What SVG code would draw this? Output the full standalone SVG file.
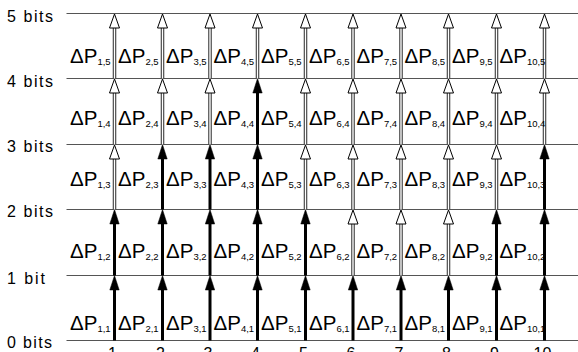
<svg xmlns="http://www.w3.org/2000/svg" xmlns:xlink="http://www.w3.org/1999/xlink" width="578" height="352" viewBox="0 0 578 352">
<style>
.grid{stroke:#555;stroke-width:1;fill:none}
.ax{font-family:"Liberation Sans",Arial,sans-serif;font-size:16px;fill:#000}
.lb{font-family:"Liberation Sans",Arial,sans-serif;font-size:20.5px;fill:#000}
.sub{font-size:9.5px}
.bs{stroke:#000;stroke-width:3;fill:none}
.ho{stroke:#333;stroke-width:3.5;fill:none}
.hi{stroke:#fff;stroke-width:1.4;fill:none}
.bh{fill:#000;stroke:#000;stroke-width:0.5}
.hh{fill:#fff;stroke:#000;stroke-width:1}
</style>
<defs>
<path id="hb" d="M0,0 L-4.7,14.5 L4.7,14.5 Z" class="bh"/>
<path id="hh" d="M0,0.5 L-5,14.5 L5,14.5 Z" class="hh"/>
</defs>
<rect width="578" height="352" fill="#fff"/>
<g id="gridlines">
<line class="grid" x1="66.5" y1="13.5" x2="578" y2="13.5"/>
<line class="grid" x1="66.5" y1="78.5" x2="578" y2="78.5"/>
<line class="grid" x1="66.5" y1="144.5" x2="578" y2="144.5"/>
<line class="grid" x1="66.5" y1="209.5" x2="578" y2="209.5"/>
<line class="grid" x1="66.5" y1="275.5" x2="578" y2="275.5"/>
<line class="grid" x1="66.5" y1="340.5" x2="578" y2="340.5"/>
</g>
<g id="axis-labels">
<text class="ax" x="7" y="22" textLength="46" lengthAdjust="spacing">5 bits</text>
<text class="ax" x="7" y="86.5" textLength="46" lengthAdjust="spacing">4 bits</text>
<text class="ax" x="7" y="152" textLength="46" lengthAdjust="spacing">3 bits</text>
<text class="ax" x="7" y="217" textLength="46" lengthAdjust="spacing">2 bits</text>
<text class="ax" x="7" y="283.5" textLength="38" lengthAdjust="spacing">1 bit</text>
<text class="ax" x="7" y="348" textLength="45" lengthAdjust="spacing">0 bits</text>
<g text-anchor="middle">
<text class="ax" x="112.5" y="359">1</text>
<text class="ax" x="160.5" y="359">2</text>
<text class="ax" x="208" y="359">3</text>
<text class="ax" x="255.5" y="359">4</text>
<text class="ax" x="303.5" y="359">5</text>
<text class="ax" x="351" y="359">6</text>
<text class="ax" x="399" y="359">7</text>
<text class="ax" x="446.5" y="359">8</text>
<text class="ax" x="494.5" y="359">9</text>
<text class="ax" x="542.5" y="359">10</text>
</g>
</g>
<g id="connectors">
<g id="level1">
<line class="bs" x1="114.5" y1="340.5" x2="114.5" y2="286"/><use xlink:href="#hb" x="114.5" y="275.5"/>
<line class="bs" x1="162.5" y1="340.5" x2="162.5" y2="286"/><use xlink:href="#hb" x="162.5" y="275.5"/>
<line class="bs" x1="210" y1="340.5" x2="210" y2="286"/><use xlink:href="#hb" x="210" y="275.5"/>
<line class="bs" x1="257.5" y1="340.5" x2="257.5" y2="286"/><use xlink:href="#hb" x="257.5" y="275.5"/>
<line class="bs" x1="305.5" y1="340.5" x2="305.5" y2="286"/><use xlink:href="#hb" x="305.5" y="275.5"/>
<line class="bs" x1="353" y1="340.5" x2="353" y2="286"/><use xlink:href="#hb" x="353" y="275.5"/>
<line class="bs" x1="401" y1="340.5" x2="401" y2="286"/><use xlink:href="#hb" x="401" y="275.5"/>
<line class="bs" x1="448.5" y1="340.5" x2="448.5" y2="286"/><use xlink:href="#hb" x="448.5" y="275.5"/>
<line class="bs" x1="496.5" y1="340.5" x2="496.5" y2="286"/><use xlink:href="#hb" x="496.5" y="275.5"/>
<line class="bs" x1="544.5" y1="340.5" x2="544.5" y2="286"/><use xlink:href="#hb" x="544.5" y="275.5"/>
</g>
<g id="level2">
<line class="bs" x1="114.5" y1="275.5" x2="114.5" y2="220"/><use xlink:href="#hb" x="114.5" y="209.5"/>
<line class="bs" x1="162.5" y1="275.5" x2="162.5" y2="220"/><use xlink:href="#hb" x="162.5" y="209.5"/>
<line class="bs" x1="210" y1="275.5" x2="210" y2="220"/><use xlink:href="#hb" x="210" y="209.5"/>
<line class="bs" x1="257.5" y1="275.5" x2="257.5" y2="220"/><use xlink:href="#hb" x="257.5" y="209.5"/>
<line class="bs" x1="305.5" y1="275.5" x2="305.5" y2="220"/><use xlink:href="#hb" x="305.5" y="209.5"/>
<line class="ho" x1="353" y1="275.5" x2="353" y2="223"/><line class="hi" x1="353" y1="275.5" x2="353" y2="223"/><use xlink:href="#hh" x="353" y="209.5"/>
<line class="ho" x1="401" y1="275.5" x2="401" y2="223"/><line class="hi" x1="401" y1="275.5" x2="401" y2="223"/><use xlink:href="#hh" x="401" y="209.5"/>
<line class="ho" x1="448.5" y1="275.5" x2="448.5" y2="223"/><line class="hi" x1="448.5" y1="275.5" x2="448.5" y2="223"/><use xlink:href="#hh" x="448.5" y="209.5"/>
<line class="bs" x1="496.5" y1="275.5" x2="496.5" y2="220"/><use xlink:href="#hb" x="496.5" y="209.5"/>
<line class="bs" x1="544.5" y1="275.5" x2="544.5" y2="220"/><use xlink:href="#hb" x="544.5" y="209.5"/>
</g>
<g id="level3">
<line class="ho" x1="114.5" y1="209.5" x2="114.5" y2="158"/><line class="hi" x1="114.5" y1="209.5" x2="114.5" y2="158"/><use xlink:href="#hh" x="114.5" y="144.5"/>
<line class="bs" x1="162.5" y1="209.5" x2="162.5" y2="155"/><use xlink:href="#hb" x="162.5" y="144.5"/>
<line class="bs" x1="210" y1="209.5" x2="210" y2="155"/><use xlink:href="#hb" x="210" y="144.5"/>
<line class="bs" x1="257.5" y1="209.5" x2="257.5" y2="155"/><use xlink:href="#hb" x="257.5" y="144.5"/>
<line class="ho" x1="305.5" y1="209.5" x2="305.5" y2="158"/><line class="hi" x1="305.5" y1="209.5" x2="305.5" y2="158"/><use xlink:href="#hh" x="305.5" y="144.5"/>
<line class="ho" x1="353" y1="209.5" x2="353" y2="158"/><line class="hi" x1="353" y1="209.5" x2="353" y2="158"/><use xlink:href="#hh" x="353" y="144.5"/>
<line class="ho" x1="401" y1="209.5" x2="401" y2="158"/><line class="hi" x1="401" y1="209.5" x2="401" y2="158"/><use xlink:href="#hh" x="401" y="144.5"/>
<line class="ho" x1="448.5" y1="209.5" x2="448.5" y2="158"/><line class="hi" x1="448.5" y1="209.5" x2="448.5" y2="158"/><use xlink:href="#hh" x="448.5" y="144.5"/>
<line class="ho" x1="496.5" y1="209.5" x2="496.5" y2="158"/><line class="hi" x1="496.5" y1="209.5" x2="496.5" y2="158"/><use xlink:href="#hh" x="496.5" y="144.5"/>
<line class="bs" x1="544.5" y1="209.5" x2="544.5" y2="155"/><use xlink:href="#hb" x="544.5" y="144.5"/>
</g>
<g id="level4">
<line class="ho" x1="114.5" y1="144.5" x2="114.5" y2="92"/><line class="hi" x1="114.5" y1="144.5" x2="114.5" y2="92"/><use xlink:href="#hh" x="114.5" y="78.5"/>
<line class="ho" x1="162.5" y1="144.5" x2="162.5" y2="92"/><line class="hi" x1="162.5" y1="144.5" x2="162.5" y2="92"/><use xlink:href="#hh" x="162.5" y="78.5"/>
<line class="ho" x1="210" y1="144.5" x2="210" y2="92"/><line class="hi" x1="210" y1="144.5" x2="210" y2="92"/><use xlink:href="#hh" x="210" y="78.5"/>
<line class="bs" x1="257.5" y1="144.5" x2="257.5" y2="89"/><use xlink:href="#hb" x="257.5" y="78.5"/>
<line class="ho" x1="305.5" y1="144.5" x2="305.5" y2="92"/><line class="hi" x1="305.5" y1="144.5" x2="305.5" y2="92"/><use xlink:href="#hh" x="305.5" y="78.5"/>
<line class="ho" x1="353" y1="144.5" x2="353" y2="92"/><line class="hi" x1="353" y1="144.5" x2="353" y2="92"/><use xlink:href="#hh" x="353" y="78.5"/>
<line class="ho" x1="401" y1="144.5" x2="401" y2="92"/><line class="hi" x1="401" y1="144.5" x2="401" y2="92"/><use xlink:href="#hh" x="401" y="78.5"/>
<line class="ho" x1="448.5" y1="144.5" x2="448.5" y2="92"/><line class="hi" x1="448.5" y1="144.5" x2="448.5" y2="92"/><use xlink:href="#hh" x="448.5" y="78.5"/>
<line class="ho" x1="496.5" y1="144.5" x2="496.5" y2="92"/><line class="hi" x1="496.5" y1="144.5" x2="496.5" y2="92"/><use xlink:href="#hh" x="496.5" y="78.5"/>
<line class="ho" x1="544.5" y1="144.5" x2="544.5" y2="92"/><line class="hi" x1="544.5" y1="144.5" x2="544.5" y2="92"/><use xlink:href="#hh" x="544.5" y="78.5"/>
</g>
<g id="level5">
<line class="ho" x1="114.5" y1="78.5" x2="114.5" y2="27"/><line class="hi" x1="114.5" y1="78.5" x2="114.5" y2="27"/><use xlink:href="#hh" x="114.5" y="13.5"/>
<line class="ho" x1="162.5" y1="78.5" x2="162.5" y2="27"/><line class="hi" x1="162.5" y1="78.5" x2="162.5" y2="27"/><use xlink:href="#hh" x="162.5" y="13.5"/>
<line class="ho" x1="210" y1="78.5" x2="210" y2="27"/><line class="hi" x1="210" y1="78.5" x2="210" y2="27"/><use xlink:href="#hh" x="210" y="13.5"/>
<line class="ho" x1="257.5" y1="78.5" x2="257.5" y2="27"/><line class="hi" x1="257.5" y1="78.5" x2="257.5" y2="27"/><use xlink:href="#hh" x="257.5" y="13.5"/>
<line class="ho" x1="305.5" y1="78.5" x2="305.5" y2="27"/><line class="hi" x1="305.5" y1="78.5" x2="305.5" y2="27"/><use xlink:href="#hh" x="305.5" y="13.5"/>
<line class="ho" x1="353" y1="78.5" x2="353" y2="27"/><line class="hi" x1="353" y1="78.5" x2="353" y2="27"/><use xlink:href="#hh" x="353" y="13.5"/>
<line class="ho" x1="401" y1="78.5" x2="401" y2="27"/><line class="hi" x1="401" y1="78.5" x2="401" y2="27"/><use xlink:href="#hh" x="401" y="13.5"/>
<line class="ho" x1="448.5" y1="78.5" x2="448.5" y2="27"/><line class="hi" x1="448.5" y1="78.5" x2="448.5" y2="27"/><use xlink:href="#hh" x="448.5" y="13.5"/>
<line class="ho" x1="496.5" y1="78.5" x2="496.5" y2="27"/><line class="hi" x1="496.5" y1="78.5" x2="496.5" y2="27"/><use xlink:href="#hh" x="496.5" y="13.5"/>
<line class="ho" x1="544.5" y1="78.5" x2="544.5" y2="27"/><line class="hi" x1="544.5" y1="78.5" x2="544.5" y2="27"/><use xlink:href="#hh" x="544.5" y="13.5"/>
</g>
</g>
<g id="cells">
<g id="row5">
<text class="lb" x="70" y="63">ΔP<tspan class="sub" dy="1.5">1,5</tspan></text>
<text class="lb" x="118" y="63">ΔP<tspan class="sub" dy="1.5">2,5</tspan></text>
<text class="lb" x="166" y="63">ΔP<tspan class="sub" dy="1.5">3,5</tspan></text>
<text class="lb" x="213.5" y="63">ΔP<tspan class="sub" dy="1.5">4,5</tspan></text>
<text class="lb" x="261" y="63">ΔP<tspan class="sub" dy="1.5">5,5</tspan></text>
<text class="lb" x="309" y="63">ΔP<tspan class="sub" dy="1.5">6,5</tspan></text>
<text class="lb" x="356.5" y="63">ΔP<tspan class="sub" dy="1.5">7,5</tspan></text>
<text class="lb" x="404.5" y="63">ΔP<tspan class="sub" dy="1.5">8,5</tspan></text>
<text class="lb" x="452" y="63">ΔP<tspan class="sub" dy="1.5">9,5</tspan></text>
<text class="lb" x="499.5" y="63">ΔP<tspan class="sub" dy="1.5">10,5</tspan></text>
</g>
<g id="row4">
<text class="lb" x="70" y="125">ΔP<tspan class="sub" dy="1.5">1,4</tspan></text>
<text class="lb" x="118" y="125">ΔP<tspan class="sub" dy="1.5">2,4</tspan></text>
<text class="lb" x="166" y="125">ΔP<tspan class="sub" dy="1.5">3,4</tspan></text>
<text class="lb" x="213.5" y="125">ΔP<tspan class="sub" dy="1.5">4,4</tspan></text>
<text class="lb" x="261" y="125">ΔP<tspan class="sub" dy="1.5">5,4</tspan></text>
<text class="lb" x="309" y="125">ΔP<tspan class="sub" dy="1.5">6,4</tspan></text>
<text class="lb" x="356.5" y="125">ΔP<tspan class="sub" dy="1.5">7,4</tspan></text>
<text class="lb" x="404.5" y="125">ΔP<tspan class="sub" dy="1.5">8,4</tspan></text>
<text class="lb" x="452" y="125">ΔP<tspan class="sub" dy="1.5">9,4</tspan></text>
<text class="lb" x="499.5" y="125">ΔP<tspan class="sub" dy="1.5">10,4</tspan></text>
</g>
<g id="row3">
<text class="lb" x="70" y="186">ΔP<tspan class="sub" dy="1.5">1,3</tspan></text>
<text class="lb" x="118" y="186">ΔP<tspan class="sub" dy="1.5">2,3</tspan></text>
<text class="lb" x="166" y="186">ΔP<tspan class="sub" dy="1.5">3,3</tspan></text>
<text class="lb" x="213.5" y="186">ΔP<tspan class="sub" dy="1.5">4,3</tspan></text>
<text class="lb" x="261" y="186">ΔP<tspan class="sub" dy="1.5">5,3</tspan></text>
<text class="lb" x="309" y="186">ΔP<tspan class="sub" dy="1.5">6,3</tspan></text>
<text class="lb" x="356.5" y="186">ΔP<tspan class="sub" dy="1.5">7,3</tspan></text>
<text class="lb" x="404.5" y="186">ΔP<tspan class="sub" dy="1.5">8,3</tspan></text>
<text class="lb" x="452" y="186">ΔP<tspan class="sub" dy="1.5">9,3</tspan></text>
<text class="lb" x="499.5" y="186">ΔP<tspan class="sub" dy="1.5">10,3</tspan></text>
</g>
<g id="row2">
<text class="lb" x="70" y="258">ΔP<tspan class="sub" dy="1.5">1,2</tspan></text>
<text class="lb" x="118" y="258">ΔP<tspan class="sub" dy="1.5">2,2</tspan></text>
<text class="lb" x="166" y="258">ΔP<tspan class="sub" dy="1.5">3,2</tspan></text>
<text class="lb" x="213.5" y="258">ΔP<tspan class="sub" dy="1.5">4,2</tspan></text>
<text class="lb" x="261" y="258">ΔP<tspan class="sub" dy="1.5">5,2</tspan></text>
<text class="lb" x="309" y="258">ΔP<tspan class="sub" dy="1.5">6,2</tspan></text>
<text class="lb" x="356.5" y="258">ΔP<tspan class="sub" dy="1.5">7,2</tspan></text>
<text class="lb" x="404.5" y="258">ΔP<tspan class="sub" dy="1.5">8,2</tspan></text>
<text class="lb" x="452" y="258">ΔP<tspan class="sub" dy="1.5">9,2</tspan></text>
<text class="lb" x="499.5" y="258">ΔP<tspan class="sub" dy="1.5">10,2</tspan></text>
</g>
<g id="row1">
<text class="lb" x="70" y="330">ΔP<tspan class="sub" dy="1.5">1,1</tspan></text>
<text class="lb" x="118" y="330">ΔP<tspan class="sub" dy="1.5">2,1</tspan></text>
<text class="lb" x="166" y="330">ΔP<tspan class="sub" dy="1.5">3,1</tspan></text>
<text class="lb" x="213.5" y="330">ΔP<tspan class="sub" dy="1.5">4,1</tspan></text>
<text class="lb" x="261" y="330">ΔP<tspan class="sub" dy="1.5">5,1</tspan></text>
<text class="lb" x="309" y="330">ΔP<tspan class="sub" dy="1.5">6,1</tspan></text>
<text class="lb" x="356.5" y="330">ΔP<tspan class="sub" dy="1.5">7,1</tspan></text>
<text class="lb" x="404.5" y="330">ΔP<tspan class="sub" dy="1.5">8,1</tspan></text>
<text class="lb" x="452" y="330">ΔP<tspan class="sub" dy="1.5">9,1</tspan></text>
<text class="lb" x="499.5" y="330">ΔP<tspan class="sub" dy="1.5">10,1</tspan></text>
</g>
</g>
</svg>
